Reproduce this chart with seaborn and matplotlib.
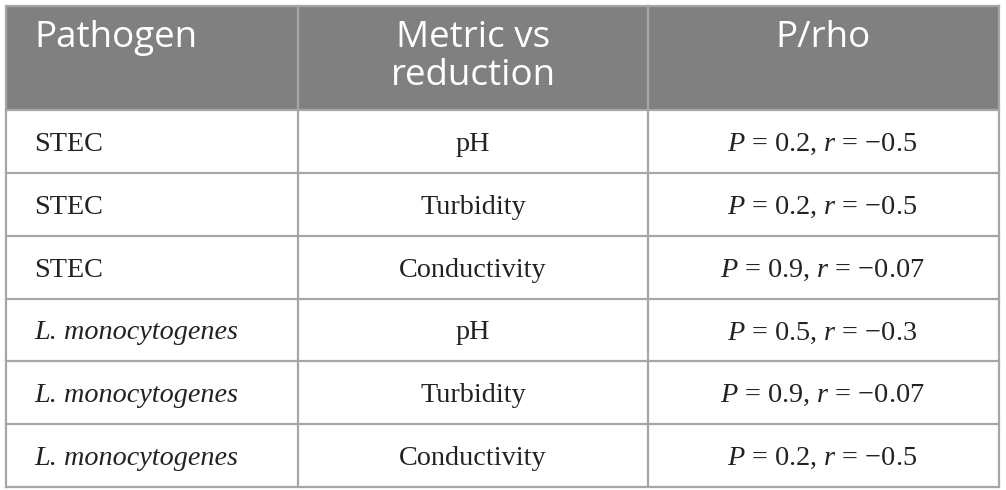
import matplotlib

matplotlib.use("Agg")
import matplotlib.pyplot as plt  # noqa: E402
import seaborn as sns  # noqa: E402

import pandas as pd

# table content
headers = ["Pathogen", "Metric vs\nreduction", "P/rho"]
pathogens = ["STEC", "STEC", "STEC",
             "L. monocytogenes", "L. monocytogenes", "L. monocytogenes"]
metrics = ["pH", "Turbidity", "Conductivity", "pH", "Turbidity", "Conductivity"]
p_values = ["0.2", "0.2", "0.9", "0.5", "0.9", "0.2"]
r_values = ["0.5", "0.5", "0.07", "0.3", "0.07", "0.5"]

df = pd.DataFrame({"pathogen": pathogens, "metric": metrics,
                   "p": p_values, "r": r_values})

# layout in pixels
col_edges = [6, 298, 648, 999]
header_top, header_bottom = 6, 110
table_bottom = 487
line_color = "#a6a6a6"
header_color = "#808080"

sns.set_theme(style="white")
plt.rcParams["mathtext.fontset"] = "custom"
plt.rcParams["mathtext.it"] = "Liberation Serif:italic"
plt.rcParams["mathtext.rm"] = "Liberation Serif"

fig = plt.figure(figsize=(10.06, 4.9), dpi=100)
ax = fig.add_axes([0, 0, 1, 1])
ax.set_xlim(0, 1006)
ax.set_ylim(490, 0)
ax.axis("off")

n = len(df)
row_h = (table_bottom - header_bottom) / n

# header background
ax.fill_between([col_edges[0], col_edges[-1]], header_top, header_bottom,
                color=header_color, lw=0, zorder=1)

# grid lines
for x in col_edges:
    ax.plot([x, x], [header_top, table_bottom], color=line_color, lw=1.6,
            zorder=2, solid_capstyle="projecting")
for i in range(n + 1):
    y = header_bottom + i * row_h
    ax.plot([col_edges[0], col_edges[-1]], [y, y], color=line_color, lw=1.6,
            zorder=2, solid_capstyle="projecting")
ax.plot([col_edges[0], col_edges[-1]], [header_top, header_top],
        color=line_color, lw=1.6, zorder=2, solid_capstyle="projecting")

# header text
hfont = dict(family="Open Sans", size=26.5, color="white", zorder=3)
ax.text(34, 38, headers[0], ha="left", va="center", **hfont)
ax.text((col_edges[1] + col_edges[2]) / 2, 57, headers[1], ha="center",
        va="center", linespacing=1.1, **hfont)
ax.text((col_edges[2] + col_edges[3]) / 2, 38, headers[2], ha="center",
        va="center", **hfont)

# body text
bfont = dict(family="Liberation Serif", size=20.3, color="#222222", zorder=3)
for i, row in df.iterrows():
    yc = header_bottom + (i + 0.5) * row_h + 3
    style = "italic" if row["pathogen"].startswith("L.") else "normal"
    ax.text(34, yc, row["pathogen"], ha="left", va="center",
            style=style, **bfont)
    ax.text((col_edges[1] + col_edges[2]) / 2, yc, row["metric"],
            ha="center", va="center", **bfont)
    ax.text((col_edges[2] + col_edges[3]) / 2 - 1, yc,
            f"$P$ = {row['p']}, $r$ = \u2212{row['r']}",
            ha="center", va="center", **bfont)

fig.savefig("out.png", dpi=100)
